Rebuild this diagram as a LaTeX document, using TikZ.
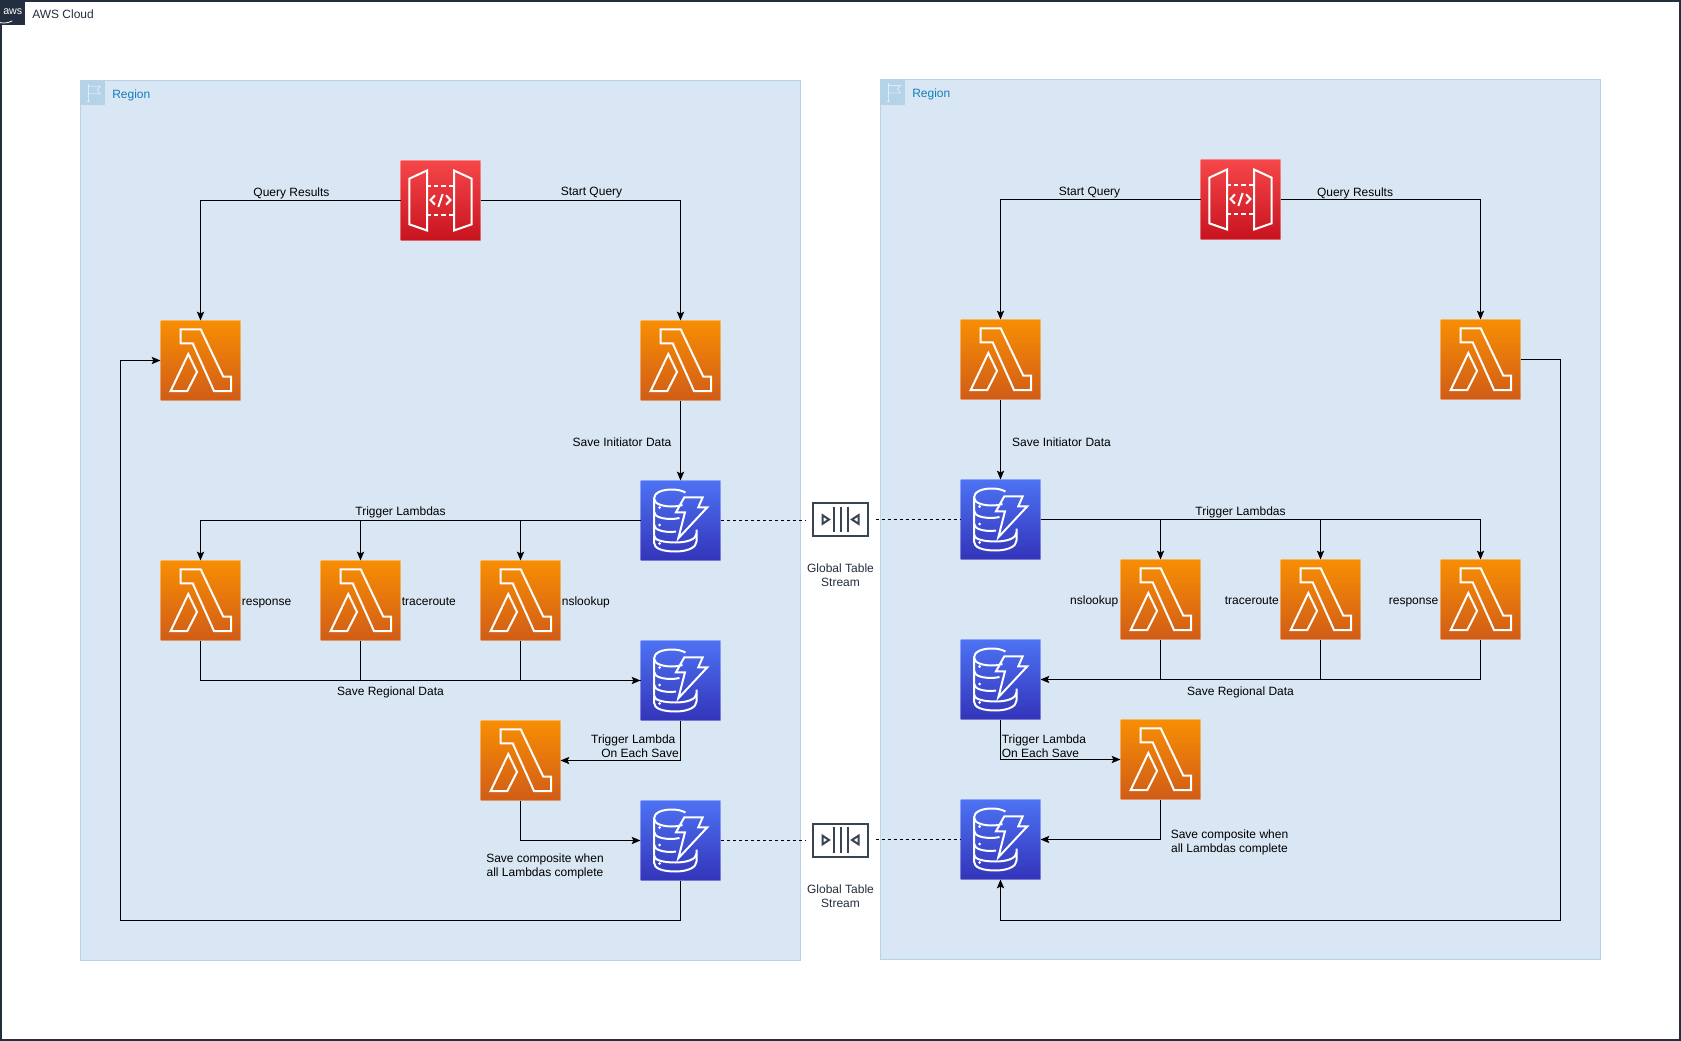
\documentclass[tikz,border=0pt]{standalone}
\usepackage{fontspec}
\setmainfont{Liberation Sans}
\usetikzlibrary{arrows.meta,positioning,calc}

\definecolor{awsink}{HTML}{232F3E}
\definecolor{regionfill}{HTML}{D9E6F3}
\definecolor{regionline}{HTML}{B7D3EA}
\definecolor{regiontag}{HTML}{B4D2E8}
\definecolor{regiontext}{HTML}{147EBA}
\definecolor{lambdatop}{HTML}{F78E04}
\definecolor{lambdabot}{HTML}{D05C17}
\definecolor{gatewaytop}{HTML}{F54749}
\definecolor{gatewaybot}{HTML}{C7131F}
\definecolor{dynamotop}{HTML}{4D72F3}
\definecolor{dynamobot}{HTML}{3334B9}

\newcommand{\lambdaglyph}{%
  \begin{scope}[glyph]
    \draw (-19.8,-31.2) -- (0.2,-31.2) -- (22.8,16.2) -- (30.5,16.2) -- (30.5,30.5) -- (13.5,30.5) -- (-7.8,-17.2) -- (-19.8,-17.2) -- cycle;
    \draw (-12.2,-6.5) -- (-3.5,11.5) -- (-13.2,30.5) -- (-29.8,30.5) -- cycle;
  \end{scope}}
\newcommand{\gatewayglyph}{%
  \begin{scope}[glyph]
    \draw (-31.2,-21.8) -- (-13.5,-30) -- (-13.5,30) -- (-31.2,23.8) -- cycle;
    \draw (31.2,-21.8) -- (13.5,-30) -- (13.5,30) -- (31.2,23.8) -- cycle;
    \draw[dash pattern=on 3.2pt off 2.2pt] (-13.5,-14.8) -- (13.5,-14.8);
    \draw[dash pattern=on 3.2pt off 2.2pt] (-13.5,14.2) -- (13.5,14.2);
    \draw (-5.5,-5.2) -- (-10,-0.5) -- (-5.5,4.2);
    \draw (5.5,-5.2) -- (10,-0.5) -- (5.5,4.2);
    \draw (2.2,-6.5) -- (-2.2,6.5);
  \end{scope}}
\newcommand{\dynamoglyph}{%
  \begin{scope}[glyph]
    \draw (-26.5,15) -- (-26.5,-22) .. controls (-26.5,-28) and (-18,-31) .. (-9,-31) .. controls (-3,-31) and (1,-30) .. (5,-28);
    \draw (-26.5,-22) .. controls (-26.5,-16) and (-16,-14) .. (-9,-14) .. controls (-5,-14) and (-2,-14.5) .. (2,-15.5);
    \draw (-26.5,-9) .. controls (-26.5,-3) and (-16,-1.5) .. (-9,-1.5) .. controls (-6,-1.5) and (-4,-2) .. (-1,-2.5);
    \draw (-26.5,4) .. controls (-26.5,10) and (-16,11.5) .. (-9,11.5) .. controls (-7,11.5) and (-6,11.2) .. (-4.5,11);
    \draw (-26.5,15) -- (-26.5,22) .. controls (-26.5,28) and (-18,31) .. (-5,31) .. controls (7,31) and (16,27) .. (16,21) -- (16,9);
    \draw (-26.5,15) .. controls (-26.5,20) and (-16,22) .. (-5,22) .. controls (6,22) and (16,19) .. (16,13);
    \fill[white] (-21,-13) circle (1.5) (-21,4.5) circle (1.5) (-21,23) circle (1.5);
    \draw[line join=miter] (3.8,-23.2) -- (22.2,-23.2) -- (17.8,-13.2) -- (26.8,-13.2) -- (-2.2,17.8) -- (4.5,-8.2) -- (-4.5,-8.2) -- cycle;
  \end{scope}}
\newcommand{\streamglyph}{%
  \begin{scope}[shift={(path picture bounding box.center)},draw=awsink!90!white,line width=1.5pt]
    \draw (-7,-12.7) -- (-7,12.7);
    \draw (0,-12.7) -- (0,12.7);
    \draw (7,-12.7) -- (7,12.7);
    \draw (-18,-4.3) -- (-11.5,0) -- (-18,4.3) -- cycle;
    \draw (18,-4.3) -- (11.5,0) -- (18,4.3) -- cycle;
    \draw (-27.5,-16.5) rectangle (27.5,16.5);
  \end{scope}}
\newcommand{\flagglyph}{%
  \begin{scope}[shift={(path picture bounding box.center)},draw=white,draw opacity=.6,line width=.6pt]
    \draw (-4.5,-9) -- (-4.5,9) (-6,9) -- (-3,9);
    \draw (-4.5,-6.5) -- (7.5,-6.5) -- (4.5,-3) -- (7.5,1) -- (-4.5,1);
  \end{scope}}
\newcommand{\smileglyph}{%
  \begin{scope}[shift={(path picture bounding box.center)},draw=white,line width=.6pt]
    \draw (-9,3.5) .. controls (-4,7) and (4,7) .. (9,4);
  \end{scope}}

\begin{document}
\begin{tikzpicture}[
  x=0.75pt, y=-0.75pt,
  font=\fontsize{9}{10.5}\selectfont,
  glyph/.style={shift={(path picture bounding box.center)}, draw=white, draw opacity=1, line width=1.5pt},
  icon/.style={minimum size=60pt, inner sep=0pt, outer sep=0pt, draw=white, draw opacity=.35, line width=.75pt},
  lambdafn/.style={icon, top color=lambdatop, bottom color=lambdabot, path picture={\lambdaglyph}},
  gateway/.style={icon, top color=gatewaytop, bottom color=gatewaybot, path picture={\gatewayglyph}},
  dynamo/.style={icon, top color=dynamotop, bottom color=dynamobot, path picture={\dynamoglyph}},
  stream/.style={minimum width=52.5pt, minimum height=26pt, inner sep=0pt, outer sep=0pt, path picture={\streamglyph}},
  regionbox/.style={draw=regionline, fill=regionfill, line width=.75pt},
  regionflag/.style={minimum size=19pt, inner sep=0pt, outer sep=0pt, fill=regiontag, path picture={\flagglyph}},
  regionname/.style={anchor=west, inner sep=0pt, text=regiontext},
  txt/.style={inner sep=0pt, align=center},
  fntxt/.style={txt, text height=6.5pt, text depth=1.9pt, yshift=-1.3pt},
  sidetxt/.style={inner sep=0pt, text=awsink, align=center},
  arrow/.style={-{Stealth[length=6.6pt,width=5.4pt,inset=1.3pt]}, line width=.75pt},
  wire/.style={line width=.75pt},
  tablelink/.style={line width=.75pt, dash pattern=on 2.25pt off 2.25pt},
]
\useasboundingbox (0,0) rectangle (1681,1041);

% --- AWS Cloud frame ---
\draw[draw=awsink, fill=white, line width=1.2pt] (0.8,0.8) rectangle (1680.2,1040.2);
\node[minimum size=19pt, inner sep=0pt, outer sep=0pt, fill=awsink, text=white, path picture={\smileglyph},
  font=\fontsize{8}{8}\selectfont] (cloudtag) at (12.8,12.8) {\raisebox{1.8pt}{aws}};
\node[anchor=west, inner sep=0pt, text=awsink] (cloudname) at (32,14.5) {AWS Cloud};

% --- Regions ---
\draw[regionbox] (80.5,80.5) rectangle (800.5,960);
\draw[regionbox] (880.5,79.5) rectangle (1600.5,959);
\node[regionflag] (flagleft) at (92.8,92.8) {};
\node[regionflag] (flagright) at (892.8,92) {};
\node[regionname] (regionleft) at (112,95) {Region};
\node[regionname] (regionright) at (912,94) {Region};

% --- Left: icons ---
\node[gateway] (apileft) at (440.5,200.5) {};
\node[lambdafn] (resultsleft) at (200.5,360.5) {};
\node[lambdafn] (startleft) at (680.5,360.5) {};
\node[dynamo] (initleft) at (680.5,520.5) {};
\node[lambdafn] (responseleft) at (200.5,600.5) {};
\node[lambdafn] (tracerouteleft) at (360.5,600.5) {};
\node[lambdafn] (nslookupleft) at (520.5,600.5) {};
\node[dynamo] (regionalleft) at (680.5,680.5) {};
\node[lambdafn] (eachsaveleft) at (520.5,760.5) {};
\node[dynamo] (compositeleft) at (680.5,840.5) {};
\coordinate (backleft) at (120.5,920.5);

% --- Right: icons ---
\node[gateway] (apiright) at (1240.5,199.5) {};
\node[lambdafn] (startright) at (1000.5,359.5) {};
\node[lambdafn] (resultsright) at (1480.5,359.5) {};
\node[dynamo] (initright) at (1000.5,519.5) {};
\node[lambdafn] (nslookupright) at (1160.5,599.5) {};
\node[lambdafn] (tracerouteright) at (1320.5,599.5) {};
\node[lambdafn] (responseright) at (1480.5,599.5) {};
\node[dynamo] (regionalright) at (1000.5,679.5) {};
\node[lambdafn] (eachsaveright) at (1160.5,759.5) {};
\node[dynamo] (compositeright) at (1000.5,839.5) {};
\coordinate (backright) at (1560.5,920);

% --- Between: table streams ---
\node[stream] (streamtop) at (840.5,519.5) {};
\node[stream] (streambottom) at (840.5,840) {};
\node[sidetxt] (streamtoptxt) at (840.5,575) {Global Table\\Stream};
\node[sidetxt] (streambottomtxt) at (840.5,896) {Global Table\\Stream};
\draw[tablelink] (initleft.east) -- (initleft.east -| streamtop.west);
\draw[tablelink] (streamtop.east |- initright.west) -- (initright.west);
\draw[tablelink] (compositeleft.east) -- (compositeleft.east -| streambottom.west);
\draw[tablelink] (streambottom.east |- compositeright.west) -- (compositeright.west);

% --- Left: arrows ---
\draw[arrow] (apileft.west) -| (resultsleft.north);
\draw[arrow] (apileft.east) -| (startleft.north);
\draw[arrow] (startleft.south) -- (initleft.north);
\draw[arrow] (initleft.west) -| (responseleft.north);
\draw[arrow] (initleft.west) -| (tracerouteleft.north);
\draw[arrow] (initleft.west) -| (nslookupleft.north);
\draw[arrow] (responseleft.south) |- (regionalleft.west);
\draw[wire] (tracerouteleft.south) |- (regionalleft.west);
\draw[wire] (nslookupleft.south) |- (regionalleft.west);
\draw[arrow] (regionalleft.south) |- (eachsaveleft.east);
\draw[arrow] (eachsaveleft.south) |- (compositeleft.west);
\draw[wire] (compositeleft.south) |- (backleft);
\draw[arrow] (backleft) |- (resultsleft.west);

% --- Right: arrows ---
\draw[arrow] (apiright.west) -| (startright.north);
\draw[arrow] (apiright.east) -| (resultsright.north);
\draw[arrow] (startright.south) -- (initright.north);
\draw[arrow] (initright.east) -| (nslookupright.north);
\draw[arrow] (initright.east) -| (tracerouteright.north);
\draw[arrow] (initright.east) -| (responseright.north);
\draw[arrow] (responseright.south) |- (regionalright.east);
\draw[wire] (tracerouteright.south) |- (regionalright.east);
\draw[wire] (nslookupright.south) |- (regionalright.east);
\draw[arrow] (regionalright.south) |- (eachsaveright.west);
\draw[arrow] (eachsaveright.south) |- (compositeright.east);
\draw[wire] (resultsright.east) -| (backright);
\draw[arrow] (backright) -| (compositeright.south);

% --- Left: labels ---
\node[txt] (resultsleftxt) at (291.5,193) {Query Results};
\node[txt] (startlefttxt) at (591.5,193) {Start Query};
\node[txt] (savelefttxt) at (622,442.5) {Save Initiator Data};
\node[txt] (triggerlefttxt) at (400.5,512) {Trigger Lambdas};
\node[fntxt, right=0.8pt of responseleft] (responselefttxt) {response};
\node[fntxt, right=0.8pt of tracerouteleft] (tracerouteleftxt) {traceroute};
\node[fntxt, right=0.8pt of nslookupleft] (nslookuplefttxt) {nslookup};
\node[txt] (regionallefttxt) at (390.5,692) {Save Regional Data};
\node[txt, anchor=east, align=right] (eachsavelefttxt) at (679,746) {\mbox{Trigger Lambda\hspace{2.5pt}}\\On Each Save};
\node[txt] (compositelefttxt) at (545,866.5) {Save composite when\\all Lambdas complete};

% --- Right: labels ---
\node[txt] (startrighttxt) at (1089.5,193) {Start Query};
\node[txt] (resultsrighttxt) at (1355,193) {Query Results};
\node[txt] (saverighttxt) at (1061.5,442.5) {Save Initiator Data};
\node[txt] (triggerrighttxt) at (1240.5,512) {Trigger Lambdas};
\node[fntxt, left=1.5pt of nslookupright] (nslookuprighttxt) {nslookup};
\node[fntxt, left=1pt of tracerouteright] (tracerouterighttxt) {traceroute};
\node[fntxt, left=1.5pt of responseright] (responserighttxt) {response};
\node[txt] (regionalrighttxt) at (1240.5,692) {Save Regional Data};
\node[txt, anchor=west, align=left] (eachsaverighttxt) at (1001.5,746) {Trigger Lambda\\On Each Save};
\node[txt] (compositerighttxt) at (1229.5,842) {Save composite when\\all Lambdas complete};

\end{tikzpicture}
\end{document}
